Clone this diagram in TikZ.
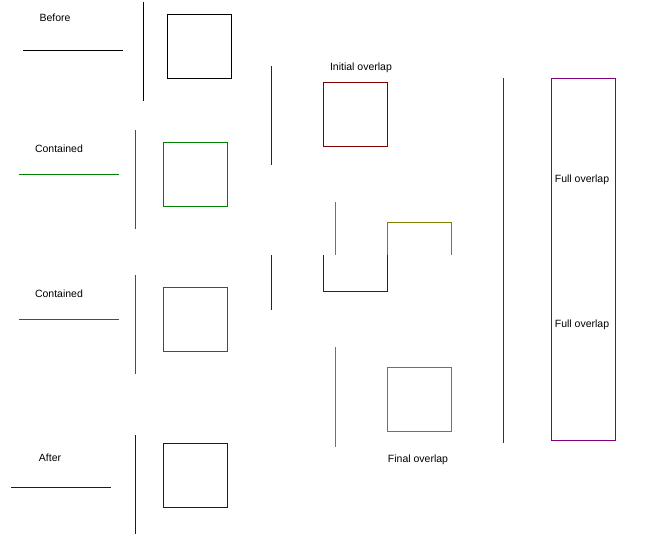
\documentclass[tikz,border=0pt]{standalone}
\usepackage{fontspec}
\setmainfont{Liberation Sans}
\definecolor{cgreen}{HTML}{008000}
\definecolor{cblue}{HTML}{0000FF}
\definecolor{cmaroon}{HTML}{800000}
\definecolor{colive}{HTML}{808000}
\definecolor{cpurple}{HTML}{800080}
\begin{document}
\begin{tikzpicture}[x=1pt,y=-1pt,line width=1pt,
  lbl/.style={font=\fontsize{10.5}{12}\selectfont,inner sep=0pt,anchor=center,yshift=-1.5pt}]
\useasboundingbox (0,0) rectangle (672,544);
% Before (black)
\node[lbl] (tbefore) at (55,16) {Before};
\draw (23,50) -- (123,50);
\draw (143,2) -- (143,101);
\draw (167,14) rectangle (231,78);
% Contained 1 (green)
\node[lbl] (tcont1) at (59,147) {Contained};
\draw[cgreen] (19,174) -- (119,174);
\draw[cgreen] (135,130) -- (135,229);
\draw[cgreen] (163,142) rectangle (227,206);
% Contained 2 (green)
\node[lbl] (tcont2) at (59,292) {Contained};
\draw[cgreen] (19,319) -- (119,319);
\draw[cgreen] (135,275) -- (135,374);
\draw[cgreen] (163,287) rectangle (227,351);
% After (blue)
\node[lbl] (tafter) at (50,456) {After};
\draw[cblue] (11,487) -- (111,487);
\draw[cblue] (135,435) -- (135,534);
\draw[cblue] (163,443) rectangle (227,507);
% Initial overlap (maroon)
\node[lbl] (tinit) at (361,66) {Initial overlap};
\draw[cmaroon] (271,66) -- (271,165);
\draw[cmaroon] (323,82) rectangle (387,146);
\draw[cmaroon] (271,255) -- (271,310);
\draw[cmaroon] (323,255) -- (323,291) -- (387,291) -- (387,255);
% Olive
\draw[colive] (335,202) -- (335,255);
\draw[colive] (387,255) -- (387,222) -- (451,222) -- (451,255);
\draw[colive] (335,347) -- (335,447);
\draw[colive] (387,367) rectangle (451,431);
\node[lbl] (tfinal) at (418,458) {Final overlap};
% Full overlap (purple)
\draw[cpurple] (503,78) -- (503,443);
\draw[cpurple] (551,78) rectangle (615,440);
\node[lbl] (tfull1) at (582,178) {Full overlap};
\node[lbl] (tfull2) at (582,323) {Full overlap};
\end{tikzpicture}
\end{document}
